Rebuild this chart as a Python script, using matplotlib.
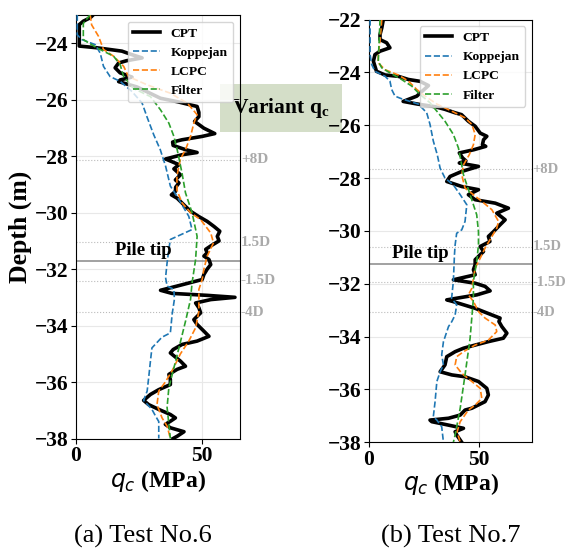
import matplotlib
matplotlib.use("Agg")
import matplotlib.pyplot as plt
from matplotlib.transforms import blended_transform_factory

plt.rcParams['font.family'] = ['Liberation Serif', 'DejaVu Sans']

# ---------------- Test No.6 (left) ----------------
cpt6_depth = [-22.99, -23.1, -23.22, -23.34, -24.1, -24.16, -24.28, -24.4, -24.52, -24.62, -24.7, -24.87,
              -25.05, -25.2, -25.3, -25.36, -25.55, -25.95, -26.07, -26.24, -26.45, -26.6, -26.77, -27.01,
              -27.2, -27.3, -27.42, -27.5, -27.62, -27.77, -27.87, -27.95, -28.1, -28.3, -28.45, -28.66,
              -28.84, -28.95, -29.1, -29.25, -29.37, -29.49, -29.72, -29.95, -30.13, -30.31, -30.49, -30.66,
              -30.84, -31.0, -31.18, -31.3, -31.42, -31.54, -31.66, -31.84, -32.0, -32.19, -32.37, -32.6,
              -32.75, -32.86, -32.93, -33.0, -33.08, -33.2, -33.37, -33.55, -33.79, -33.96, -34.2, -34.38,
              -34.55, -34.67, -34.85, -34.97, -35.26, -35.44, -35.55, -35.73, -35.91, -36.09, -36.27, -36.44,
              -36.65, -36.8, -36.97, -37.15, -37.27, -37.39, -37.5, -37.62, -37.76, -37.92, -38.0]
cpt6_qc = [6.9, 5.6, 2.9, 1.3, 1.3, 8.2, 18.2, 22.0, 26.2, 20.0, 16.9, 15.5,
           17.5, 22.2, 17.5, 16.9, 24.2, 33.5, 40.1, 48.0, 48.7, 48.7, 47.0, 50.7,
           55.0, 50.0, 42.0, 38.3, 38.5, 43.4, 48.0, 42.0, 35.5, 40.8, 38.8, 41.4,
           39.4, 40.8, 39.5, 39.4, 37.8, 40.1, 42.7, 45.4, 48.5, 52.0, 54.7, 57.0,
           56.0, 56.7, 53.4, 51.4, 52.0, 50.7, 52.7, 53.4, 52.0, 50.7, 50.0, 40.1,
           33.5, 38.0, 52.0, 63.0, 53.4, 47.4, 48.7, 49.4, 46.7, 48.0, 50.7, 52.7,
           48.0, 42.0, 38.5, 37.4, 41.4, 43.4, 40.1, 36.8, 37.4, 37.4, 32.8, 29.5,
           26.8, 28.8, 32.8, 37.4, 39.4, 37.4, 35.4, 37.4, 42.8, 40.1, 38.5]

kop6_depth = [-22.99, -23.7, -23.87, -24.05, -24.35, -24.82, -25.18, -25.35, -25.71, -26.12, -26.6, -27.24,
              -27.77, -28.35, -29.06, -29.43, -29.72, -30.13, -30.6, -30.95, -31.3, -31.78, -32.3, -32.6,
              -32.72, -33.07, -33.6, -34.26, -34.41, -34.79, -35.26, -35.85, -36.32, -36.65, -36.97, -37.2,
              -37.4, -38.0]
kop6_qc = [0.5, 0.5, 2.3, 7.6, 9.6, 10.9, 13.5, 17.5, 22.2, 26.2, 28.1, 30.8,
           33.4, 35.5, 37.4, 40.1, 42.0, 44.7, 46.0, 37.4, 36.8, 36.1, 35.5, 36.1,
           38.8, 39.0, 38.1, 37.4, 34.1, 30.1, 29.5, 28.8, 28.2, 26.8, 30.1, 31.5,
           32.8, 32.8]

lcpc6_depth = [-22.99, -23.35, -23.75, -24.22, -24.46, -24.82, -25.18, -25.47, -25.77, -26.12, -26.53, -26.83,
               -27.3, -27.77, -28.1, -28.7, -29.2, -29.65, -30.0, -30.25, -30.72, -31.07, -31.54, -32.0,
               -32.37, -32.72, -33.5, -34.08, -34.55, -35.0, -35.6, -36.0, -36.32, -36.8, -37.27, -37.56, -38.0]
lcpc6_qc = [5.6, 6.2, 8.9, 10.9, 14.9, 18.9, 20.8, 28.1, 37.4, 44.1, 48.0, 46.7,
            45.4, 43.4, 41.4, 40.0, 40.0, 42.0, 45.4, 49.4, 53.4, 54.5, 52.0, 50.7,
            50.0, 48.7, 48.7, 47.4, 44.7, 41.4, 38.1, 35.4, 32.8, 32.1, 34.1, 36.1, 37.4]

filt6_depth = [-22.99, -23.3, -23.87, -24.16, -24.46, -24.76, -25.18, -25.6, -25.89, -26.36, -26.83, -27.3,
               -27.77, -28.59, -29.3, -30.0, -30.84, -31.66, -32.49, -33.07, -33.85, -34.79, -35.5, -36.2,
               -36.9, -38.0]
filt6_qc = [5.6, 2.9, 2.9, 8.2, 14.9, 17.5, 18.9, 22.8, 29.5, 33.5, 36.8, 38.8,
            40.1, 42.0, 43.4, 46.0, 48.0, 47.4, 46.0, 45.4, 43.4, 40.8, 38.8, 36.8,
            36.1, 37.4]

# ---------------- Test No.7 (right) ----------------
cpt7_depth = [-22.0, -22.32, -22.57, -22.76, -22.88, -23.07, -23.2, -23.33, -23.58, -23.77, -23.96, -24.1,
              -24.15, -24.27, -24.34, -24.5, -24.65, -24.9, -25.1, -25.2, -25.3, -25.4, -25.53, -25.6,
              -25.85, -26.04, -26.3, -26.42, -26.55, -26.74, -26.8, -26.93, -27.05, -27.24, -27.35, -27.43,
              -27.56, -27.75, -27.94, -28.13, -28.32, -28.44, -28.63, -28.82, -28.95, -29.14, -29.33, -29.58,
              -29.77, -30.03, -30.21, -30.4, -30.59, -30.78, -30.9, -31.09, -31.28, -31.47, -31.66, -31.85,
              -31.98, -32.1, -32.27, -32.42, -32.61, -32.67, -32.93, -33.18, -33.3, -33.43, -33.62, -33.87,
              -34.06, -34.19, -34.32, -34.44, -34.57, -34.76, -35.07, -35.33, -35.45, -35.52, -35.7, -35.96,
              -36.21, -36.46, -36.71, -36.78, -36.97, -37.09, -37.16, -37.22, -37.35, -37.47, -37.6, -37.72,
              -38.0]
cpt7_qc = [6.5, 5.8, 5.0, 5.0, 8.0, 9.5, 5.0, 2.7, 2.0, 2.7, 3.4, 7.3,
           13.3, 17.9, 23.2, 27.0, 25.0, 21.7, 15.5, 22.0, 30.0, 34.5, 39.1, 42.0,
           45.1, 48.2, 50.5, 53.5, 52.0, 51.5, 53.0, 47.5, 41.0, 42.5, 44.0, 41.0,
           49.7, 42.1, 36.8, 35.3, 42.1, 49.7, 45.1, 48.2, 57.3, 63.3, 58.0, 61.8,
           59.5, 56.5, 54.2, 54.9, 50.5, 52.0, 50.5, 48.2, 48.2, 47.4, 48.2, 38.3,
           48.2, 52.7, 55.0, 49.0, 35.3, 38.0, 48.2, 55.8, 59.5, 59.0, 60.3, 62.6,
           61.0, 54.2, 48.2, 42.9, 39.1, 35.3, 34.5, 32.3, 37.6, 43.6, 49.7, 53.5,
           54.2, 52.7, 46.7, 43.6, 41.4, 36.1, 27.7, 28.5, 36.1, 42.9, 39.1, 39.8,
           42.1]

kop7_depth = [-22.0, -23.33, -23.7, -23.96, -24.15, -24.33, -24.65, -24.9, -25.0, -25.2, -25.53, -25.97,
              -26.6, -27.12, -27.63, -28.0, -28.26, -28.63, -28.82, -29.01, -29.64, -29.96, -30.09, -30.53,
              -30.9, -31.91, -32.55, -32.8, -33.18, -33.43, -33.62, -34.19, -34.69, -35.07, -35.33, -35.7,
              -36.46, -37.03, -37.16, -37.41, -38.0]
kop7_qc = [0.5, 0.5, 1.2, 2.7, 7.3, 9.5, 10.3, 11.8, 14.8, 22.4, 26.2, 27.7,
           29.2, 31.0, 32.3, 34.5, 38.3, 41.4, 42.9, 44.4, 43.6, 42.1, 39.8, 39.1,
           38.8, 38.3, 37.5, 39.8, 39.1, 37.6, 36.1, 33.8, 33.0, 33.8, 32.3, 30.8,
           30.0, 29.2, 30.8, 33.0, 33.8]

lcpc7_depth = [-22.0, -22.82, -23.33, -23.64, -23.9, -24.1, -24.33, -24.65, -24.9, -25.2, -25.47, -25.72,
               -25.97, -26.35, -26.74, -27.12, -27.5, -27.88, -28.38, -28.63, -28.88, -29.2, -29.64, -29.9,
               -30.21, -30.65, -31.03, -31.41, -31.79, -32.17, -32.42, -32.67, -33.05, -33.3, -33.56, -33.81,
               -34.13, -34.32, -34.57, -34.76, -35.07, -35.39, -35.7, -35.96, -36.34, -36.59, -36.78, -37.22,
               -37.6, -38.0]
lcpc7_qc = [5.8, 5.0, 4.2, 4.2, 7.3, 13.3, 17.9, 21.7, 25.5, 30.8, 37.6, 43.6,
            46.7, 48.2, 47.4, 45.5, 42.9, 42.1, 43.6, 47.4, 51.2, 55.8, 58.8, 58.0,
            55.8, 52.7, 50.5, 48.2, 47.4, 46.7, 45.1, 47.4, 49.7, 52.7, 57.3, 58.0,
            54.2, 48.2, 42.9, 39.8, 39.1, 42.1, 46.7, 50.5, 51.2, 48.2, 45.1, 41.4,
            40.0, 41.4]

filt7_depth = [-22.0, -22.82, -23.58, -23.83, -24.02, -24.27, -24.52, -24.84, -25.15, -25.47, -25.85, -26.35,
               -26.86, -27.2, -27.88, -28.63, -29.39, -30.03, -30.53, -31.16, -31.91, -32.55, -34.06, -35.45,
               -36.71, -37.72, -38.0]
filt7_qc = [5.0, 4.6, 4.2, 5.8, 9.5, 14.8, 19.4, 23.2, 27.7, 30.8, 34.5, 38.3,
            40.6, 41.4, 42.9, 45.9, 48.9, 49.7, 49.7, 48.9, 47.4, 47.4, 45.9, 43.6,
            41.4, 39.1, 38.3]

# reference levels
pile_tip = [-31.73, -31.27]
pile_D = 0.45
ref_names = ['+8D', '1.5D', '-1.5D', '-4D']
ref_mult = [8.0, 1.5, -1.5, -4.0]
ylims = [(-38, -23), (-38, -22)]
xlims = [(0, 65), (0, 74)]
yticks = [[-24, -26, -28, -30, -32, -34, -36, -38], [-22, -24, -26, -28, -30, -32, -34, -36, -38]]
pile_text_x = [15.5, 10.3]
captions = ['(a) Test No.6', '(b) Test No.7']

series = [
    [(cpt6_qc, cpt6_depth), (kop6_qc, kop6_depth), (lcpc6_qc, lcpc6_depth), (filt6_qc, filt6_depth)],
    [(cpt7_qc, cpt7_depth), (kop7_qc, kop7_depth), (lcpc7_qc, lcpc7_depth), (filt7_qc, filt7_depth)],
]
labels = ['CPT', 'Koppejan', 'LCPC', 'Filter']

W, H = 567, 552
fig = plt.figure(figsize=(W / 100, H / 100), dpi=100)
fig.patch.set_facecolor('white')
ax1 = fig.add_axes([76 / W, 1 - 438.5 / H, 164 / W, 423.5 / H])
ax2 = fig.add_axes([369 / W, 1 - 442.3 / H, 163 / W, 422.8 / H])
axes = [ax1, ax2]
cap_x = [142.5 / W, 451 / W]
ref_x = [1.006, 1.003]
ref_size = [11, 10.5]

for i, ax in enumerate(axes):
    ax.set_facecolor('none')
    s = series[i]
    ax.plot(*s[0], color='black', lw=2.6, label=labels[0], zorder=3)
    ax.plot(*s[1], color='tab:blue', lw=1.2, ls='--', label=labels[1], zorder=3)
    ax.plot(*s[2], color='tab:orange', lw=1.2, ls='--', label=labels[2], zorder=3)
    ax.plot(*s[3], color='tab:green', lw=1.2, ls='--', label=labels[3], zorder=3)
    ax.set_xlim(*xlims[i])
    ax.set_ylim(*ylims[i])
    ax.set_yticks(yticks[i])
    ax.set_xticks([0, 50])
    ax.grid(True, color='#e8e8e8', lw=0.8, zorder=0)
    ax.set_axisbelow(True)
    ax.tick_params(labelsize=15.5, pad=2)
    for lab in ax.get_xticklabels() + ax.get_yticklabels():
        lab.set_fontweight('bold')
    ax.set_xlabel('$q_c$ (MPa)', fontsize=17, fontweight='bold', labelpad=1)
    if i == 0:
        ax.set_ylabel('Depth (m)', fontsize=18.5, fontweight='bold', labelpad=2)
    tip = pile_tip[i]
    ax.axhline(tip, color='#888888', lw=1.1, zorder=2)
    ax.text(pile_text_x[i], tip + 0.1, 'Pile tip', fontsize=13.5, fontweight='bold',
            ha='left', va='bottom', zorder=4)
    tr = blended_transform_factory(ax.transAxes, ax.transData)
    for name, m in zip(ref_names, ref_mult):
        y = tip + m * pile_D
        ax.axhline(y, color='#bbbbbb', lw=0.8, ls=':', zorder=2)
        ax.text(ref_x[i], y, name, transform=tr, color='#aaaaaa', fontsize=ref_size[i],
                fontweight='bold', ha='left', va='center', clip_on=False)
    ax.legend(loc='upper right', prop=dict(family='Liberation Serif', weight='bold', size=9.7),
              framealpha=0.8)
    fig.text(cap_x[i], 1 - 536 / H, captions[i], fontsize=19, fontweight='normal',
             ha='center', va='center')

fig.text(281 / W, 1 - 108 / H, 'Variant q$_\\mathregular{c}$', fontsize=15.5, fontweight='bold',
         ha='center', va='center', zorder=-1,
         bbox=dict(boxstyle='square,pad=0.55', facecolor='#d4dec8', edgecolor='none'))

fig.savefig('out.png', dpi=100, facecolor='white')
